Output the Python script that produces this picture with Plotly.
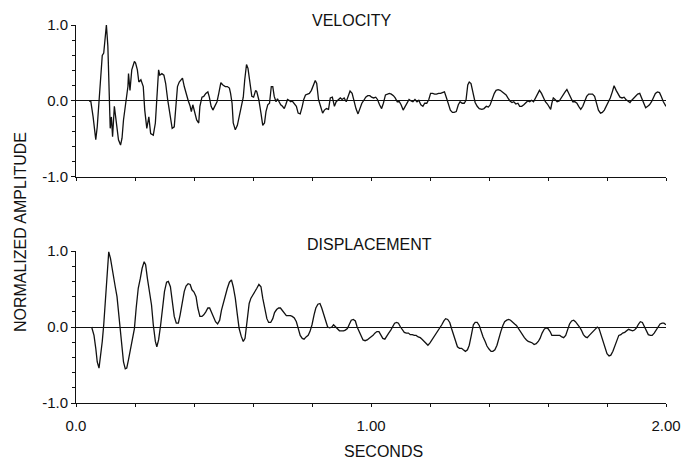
import plotly.graph_objects as go

# ---------------- data (seconds, normalized amplitude) ----------------
vel_t1 = [0.044,0.050,0.058,0.067,0.072,0.078,0.083,0.089,0.094,0.100,
          0.103,0.108,0.111,0.116,0.120,0.124,0.130,0.134,0.139,0.144,
          0.151,0.156,0.161,0.169,0.176,0.178,0.183,0.189,0.198,0.202,
          0.208,0.213,0.220,0.228,0.233,0.240,0.247,0.253,0.262,0.269,
          0.276,0.280,0.284,0.291,0.298,0.304,0.311,0.319,0.326,0.333,
          0.339,0.344,0.350,0.356,0.361,0.367,0.373,0.380,0.387,0.391,
          0.396,0.402,0.409,0.416,0.420,0.427,0.433,0.440,0.447,0.452,
          0.458,0.464,0.471,0.478,0.484,0.491,0.498,0.506,0.513,0.520,
          0.524,0.529,0.533,0.540,0.547,0.553,0.560,0.567,0.572,0.578,
          0.583,0.589,0.596,0.602,0.609,0.613,0.620,0.627,0.633,0.639,
          0.644,0.650,0.656,0.662]
vel_v1 = [0.00,0.00,-0.21,-0.51,-0.34,0.01,0.36,0.60,0.63,0.96,
          1.00,0.72,0.19,-0.36,-0.21,-0.47,-0.07,-0.21,-0.38,-0.51,
          -0.58,-0.49,-0.25,0.01,0.19,0.36,0.14,0.41,0.52,0.50,
          0.41,0.25,0.28,0.19,-0.12,-0.36,-0.21,-0.43,-0.45,-0.29,
          0.19,0.41,0.34,0.36,0.34,0.23,0.01,-0.21,-0.36,-0.34,
          -0.07,0.19,0.25,0.28,0.30,0.19,0.10,0.01,-0.07,-0.14,
          -0.05,-0.14,-0.25,-0.29,-0.07,0.05,0.06,0.10,0.12,0.05,
          -0.07,-0.12,-0.07,-0.01,0.10,0.24,0.21,0.19,0.19,0.17,
          0.10,-0.03,-0.29,-0.38,-0.32,-0.21,-0.07,0.05,0.28,0.48,
          0.43,0.23,0.06,0.05,0.14,0.12,0.01,-0.16,-0.32,-0.29,
          -0.14,-0.05,-0.03,0.19]

vel_t2 = [0.667,0.672,0.678,0.683,0.689,0.694,0.700,0.706,0.711,0.717,
          0.722,0.728,0.733,0.739,0.747,0.753,0.760,0.767,0.772,0.778,
          0.784,0.791,0.798,0.804,0.811,0.816,0.822,0.829,0.836,0.842,
          0.849,0.856,0.862,0.869,0.876,0.882,0.889,0.896,0.902,0.909,
          0.916,0.922,0.929,0.936,0.942,0.949,0.956,0.962,0.969,0.976,
          0.982,0.989,0.996,1.002,1.009,1.016,1.022,1.029,1.036,1.042,
          1.049,1.056,1.062,1.069,1.076,1.082,1.089,1.096,1.102,1.109,
          1.116,1.122,1.129,1.136,1.142,1.149,1.156,1.162,1.169,1.176,
          1.182,1.189,1.196,1.202,1.209,1.216,1.222,1.229,1.236,1.242,
          1.249,1.256,1.262,1.269,1.276,1.282,1.289,1.296,1.302,1.309,
          1.316,1.322,1.328]
vel_v2 = [0.19,0.06,-0.01,0.03,-0.01,-0.05,-0.07,-0.10,-0.05,0.02,
          0.01,-0.01,0.00,-0.03,-0.07,-0.16,-0.17,-0.07,0.02,0.08,
          0.09,0.10,0.14,0.21,0.27,0.23,0.02,-0.07,-0.16,-0.12,
          -0.10,-0.11,0.04,0.05,-0.07,-0.01,0.01,0.04,0.02,0.04,
          -0.01,0.06,0.13,0.10,-0.01,-0.10,-0.17,-0.11,-0.03,0.01,
          0.05,0.07,0.07,0.05,0.04,0.05,0.02,-0.05,-0.10,-0.03,
          0.08,0.09,0.10,0.09,0.07,0.04,-0.01,-0.01,-0.05,-0.12,
          -0.07,-0.01,0.02,0.00,-0.01,0.02,-0.01,0.01,-0.05,-0.07,
          -0.03,-0.03,0.02,0.10,0.10,0.09,0.09,0.10,0.10,0.11,
          0.12,0.04,-0.03,-0.12,-0.15,-0.15,-0.14,-0.05,-0.01,-0.03,
          -0.03,0.01,0.21]

vel_t3 = [1.333,1.339,1.347,1.353,1.360,1.367,1.376,1.383,1.391,1.398,
          1.404,1.411,1.418,1.424,1.431,1.438,1.444,1.451,1.458,1.464,
          1.471,1.478,1.484,1.491,1.498,1.504,1.511,1.518,1.524,1.531,
          1.538,1.544,1.551,1.558,1.564,1.571,1.578,1.584,1.591,1.598,
          1.604,1.609,1.613,1.618,1.624,1.631,1.638,1.644,1.651,1.658,
          1.664,1.671,1.678,1.684,1.691,1.698,1.704,1.711,1.718,1.724,
          1.731,1.738,1.744,1.751,1.758,1.764,1.771,1.778,1.784,1.791,
          1.798,1.804,1.811,1.818,1.824,1.831,1.838,1.844,1.851,1.858,
          1.864,1.871,1.878,1.884,1.891,1.898,1.904,1.911,1.918,1.924,
          1.931,1.938,1.944,1.951,1.958,1.964,1.971,1.978,1.984,1.991,
          2.000]
vel_v3 = [0.25,0.23,0.10,-0.02,-0.07,-0.10,-0.11,-0.10,-0.07,-0.08,
          -0.05,0.04,0.10,0.14,0.15,0.14,0.12,0.10,0.08,0.04,
          0.00,-0.02,-0.01,-0.04,-0.03,-0.07,-0.07,-0.05,-0.03,0.00,
          -0.01,0.01,-0.01,0.04,0.10,0.14,0.10,0.04,-0.01,-0.04,
          -0.07,-0.11,-0.03,0.04,0.02,-0.01,0.00,0.04,0.08,0.12,
          0.15,0.10,0.04,-0.01,-0.01,-0.03,-0.07,-0.11,-0.07,-0.01,
          0.06,0.09,0.09,0.09,0.06,-0.03,-0.12,-0.16,-0.15,-0.12,
          -0.07,-0.03,0.04,0.12,0.20,0.14,0.08,0.05,0.04,0.05,
          0.02,0.00,-0.02,0.01,0.04,0.06,0.09,0.10,0.04,-0.03,
          -0.09,-0.07,-0.05,-0.01,0.05,0.10,0.12,0.11,0.06,-0.01,
          -0.07]

disp_t1 = [0.053,0.061,0.067,0.072,0.078,0.083,0.089,0.094,0.100,0.106,
           0.111,0.117,0.122,0.128,0.133,0.139,0.144,0.150,0.156,0.161,
           0.167,0.172,0.178,0.184,0.191,0.198,0.204,0.211,0.218,0.224,
           0.231,0.236,0.242,0.249,0.256,0.262,0.269,0.274,0.280,0.287,
           0.293,0.300,0.307,0.313,0.320,0.327,0.333,0.340,0.347,0.353,
           0.360,0.367,0.373,0.380,0.387,0.393,0.400,0.407,0.413,0.420,
           0.427,0.433,0.440,0.447,0.453,0.460,0.467,0.473,0.480,0.487,
           0.493,0.500,0.507,0.513,0.520,0.527,0.533,0.540,0.547,0.553,
           0.560,0.567,0.573,0.580,0.587,0.593,0.600,0.607,0.613,0.620,
           0.627,0.633,0.640,0.647,0.653,0.660]
disp_v1 = [0.00,-0.11,-0.28,-0.46,-0.54,-0.41,-0.19,0.03,0.42,0.82,
           0.99,0.90,0.77,0.62,0.53,0.40,0.20,-0.02,-0.28,-0.46,
           -0.55,-0.54,-0.43,-0.32,-0.19,-0.02,0.25,0.51,0.64,0.77,
           0.86,0.82,0.64,0.47,0.29,0.03,-0.19,-0.26,-0.17,0.03,
           0.25,0.47,0.59,0.60,0.53,0.33,0.14,0.05,0.05,0.16,
           0.33,0.47,0.54,0.57,0.56,0.49,0.46,0.40,0.25,0.14,
           0.14,0.16,0.20,0.25,0.25,0.18,0.12,0.07,0.04,0.09,
           0.22,0.33,0.42,0.51,0.59,0.62,0.53,0.38,0.16,-0.02,
           -0.12,-0.19,-0.15,0.07,0.31,0.38,0.42,0.46,0.51,0.56,
           0.53,0.38,0.22,0.11,0.06,0.06]

disp_t2 = [0.667,0.673,0.680,0.687,0.693,0.700,0.707,0.713,0.720,0.727,
           0.733,0.740,0.747,0.753,0.760,0.767,0.773,0.780,0.787,0.793,
           0.800,0.807,0.813,0.820,0.827,0.833,0.840,0.847,0.853,0.860,
           0.867,0.873,0.880,0.887,0.893,0.900,0.907,0.913,0.920,0.927,
           0.933,0.940,0.947,0.953,0.960,0.967,0.973,0.980,0.987,0.993,
           1.000,1.007,1.013,1.020,1.027,1.033,1.040,1.047,1.053,1.060,
           1.067,1.073,1.080,1.087,1.093,1.100,1.107,1.113,1.120,1.127,
           1.133,1.140,1.147,1.153,1.160,1.167,1.173,1.180,1.187,1.193,
           1.200,1.207,1.213,1.220,1.227,1.233,1.240,1.247,1.253,1.260,
           1.267,1.273,1.280,1.287,1.293,1.300,1.307,1.313,1.320,1.327]
disp_v2 = [0.11,0.19,0.23,0.25,0.25,0.22,0.18,0.15,0.15,0.15,
           0.14,0.12,0.07,-0.02,-0.11,-0.15,-0.16,-0.13,-0.11,-0.06,
           0.03,0.16,0.25,0.30,0.31,0.25,0.16,0.07,0.00,-0.01,
           0.00,0.03,0.00,-0.03,-0.05,-0.05,-0.05,-0.04,-0.02,0.04,
           0.09,0.10,0.08,0.00,-0.06,-0.13,-0.17,-0.18,-0.17,-0.15,
           -0.13,-0.11,-0.08,-0.06,-0.06,-0.11,-0.15,-0.16,-0.13,-0.08,
           -0.04,0.00,0.05,0.06,0.05,0.00,-0.04,-0.07,-0.08,-0.08,
           -0.10,-0.10,-0.11,-0.11,-0.13,-0.14,-0.16,-0.19,-0.21,-0.24,
           -0.21,-0.17,-0.13,-0.08,-0.04,-0.02,0.03,0.08,0.11,0.10,
           0.06,-0.02,-0.11,-0.17,-0.26,-0.28,-0.28,-0.30,-0.32,-0.30]

disp_t3 = [1.333,1.340,1.347,1.353,1.360,1.367,1.373,1.380,1.387,1.393,
           1.400,1.407,1.413,1.420,1.427,1.433,1.440,1.447,1.453,1.460,
           1.467,1.473,1.480,1.487,1.493,1.500,1.507,1.513,1.520,1.527,
           1.533,1.540,1.547,1.553,1.560,1.567,1.573,1.580,1.587,1.593,
           1.600,1.607,1.613,1.620,1.627,1.633,1.640,1.647,1.653,1.660,
           1.667,1.673,1.680,1.687,1.693,1.700,1.707,1.713,1.720,1.727,
           1.733,1.740,1.747,1.753,1.760,1.767,1.773,1.780,1.787,1.793,
           1.800,1.807,1.813,1.820,1.827,1.833,1.840,1.847,1.853,1.860,
           1.867,1.873,1.880,1.887,1.893,1.900,1.907,1.913,1.920,1.927,
           1.933,1.940,1.947,1.953,1.960,1.967,1.973,1.980,1.987,1.993,
           2.000]
disp_v3 = [-0.24,-0.11,0.03,0.06,0.06,0.02,-0.06,-0.13,-0.19,-0.25,
           -0.29,-0.32,-0.32,-0.30,-0.24,-0.15,-0.06,0.02,0.07,0.09,
           0.10,0.09,0.06,0.04,0.02,-0.02,-0.06,-0.11,-0.14,-0.17,
           -0.19,-0.20,-0.21,-0.23,-0.22,-0.19,-0.15,-0.08,-0.03,-0.01,
           -0.02,-0.06,-0.11,-0.11,-0.11,-0.11,-0.11,-0.13,-0.14,-0.11,
           -0.04,0.04,0.08,0.09,0.07,0.04,0.00,-0.04,-0.10,-0.13,
           -0.14,-0.11,-0.08,-0.05,-0.02,0.00,-0.02,-0.11,-0.19,-0.28,
           -0.35,-0.38,-0.37,-0.32,-0.24,-0.16,-0.11,-0.10,-0.08,-0.07,
           -0.05,-0.03,-0.04,-0.05,-0.04,-0.01,0.04,0.07,0.06,0.00,
           -0.05,-0.10,-0.11,-0.11,-0.08,-0.04,0.00,0.04,0.05,0.05,
           0.03]

y_tick_vals = [-1.0, 0.0, 1.0]
y_tick_text = ["-1.0", "0.0", "1.0"]
x_tick_vals = [0.0, 1.0, 2.0]
x_tick_text = ["0.0", "1.00", "2.00"]

vel_t = vel_t1 + vel_t2 + vel_t3
vel_v = vel_v1 + vel_v2 + vel_v3
disp_t = disp_t1 + disp_t2 + disp_t3
disp_v = disp_v1 + disp_v2 + disp_v3
assert len(vel_t) == len(vel_v), (len(vel_t), len(vel_v))
assert len(disp_t) == len(disp_v), (len(disp_t), len(disp_v))

# ---------------- figure ----------------
INK = "#111111"
FONT = "Liberation Sans"

fig = go.Figure()
fig.add_trace(go.Scatter(x=vel_t, y=vel_v, mode="lines",
                         line=dict(color=INK, width=1.3), xaxis="x", yaxis="y",
                         showlegend=False, hoverinfo="skip"))
fig.add_trace(go.Scatter(x=disp_t, y=disp_v, mode="lines",
                         line=dict(color=INK, width=1.3), xaxis="x2", yaxis="y2",
                         showlegend=False, hoverinfo="skip"))

def yax(domain):
    return dict(domain=domain, range=[-1, 1], tickmode="array",
                tickvals=y_tick_vals, ticktext=y_tick_text,
                ticks="outside", ticklen=4, tickwidth=1, tickcolor=INK,
                showline=True, linecolor=INK, linewidth=1,
                zeroline=True, zerolinecolor=INK, zerolinewidth=1,
                showgrid=False, fixedrange=True,
                minor=dict(dtick=0.2, tick0=0, ticks="outside", ticklen=3,
                           tickcolor=INK, showgrid=False),
                tickfont=dict(family=FONT, size=15, color=INK))

def xax(anchor, labels):
    return dict(anchor=anchor, range=[0, 2], tickmode="array",
                tickvals=x_tick_vals, ticktext=x_tick_text,
                showticklabels=labels,
                ticks="outside", ticklen=3, tickwidth=1, tickcolor=INK,
                showline=True, linecolor=INK, linewidth=1,
                zeroline=False, showgrid=False, fixedrange=True,
                minor=dict(dtick=0.2, tick0=0, ticks="outside", ticklen=3,
                           tickcolor=INK, showgrid=False),
                ticklabelstandoff=6,
                tickfont=dict(family=FONT, size=15, color=INK))

fig.update_layout(
    width=693, height=459,
    margin=dict(l=76, r=17, t=25, b=56),
    paper_bgcolor="white", plot_bgcolor="white",
    font=dict(family=FONT, size=15, color=INK),
    xaxis=xax("y", False),
    yaxis=yax([0.598, 1.0]),
    xaxis2=xax("y2", True),
    yaxis2=yax([0.0, 0.402]),
    annotations=[
        dict(text="VELOCITY", x=0.4667, y=1.013, xref="paper", yref="paper",
             xanchor="center", yanchor="middle", showarrow=False,
             font=dict(family=FONT, size=16, color=INK)),
        dict(text="DISPLACEMENT", x=0.4975, y=0.418, xref="paper", yref="paper",
             xanchor="center", yanchor="middle", showarrow=False,
             font=dict(family=FONT, size=16, color=INK)),
        dict(text="SECONDS", x=0.5217, y=-0.1296, xref="paper", yref="paper",
             xanchor="center", yanchor="middle", showarrow=False,
             font=dict(family=FONT, size=16, color=INK)),
        dict(text="NORMALIZED AMPLITUDE", x=-0.095, y=0.452, xref="paper", yref="paper",
             xanchor="center", yanchor="middle", showarrow=False, textangle=-90,
             font=dict(family=FONT, size=16, color=INK)),
    ],
)

fig.write_html("out.html", config={"displayModeBar": False},
               post_script="document.body.style.margin='0';document.body.style.overflow='hidden';")
